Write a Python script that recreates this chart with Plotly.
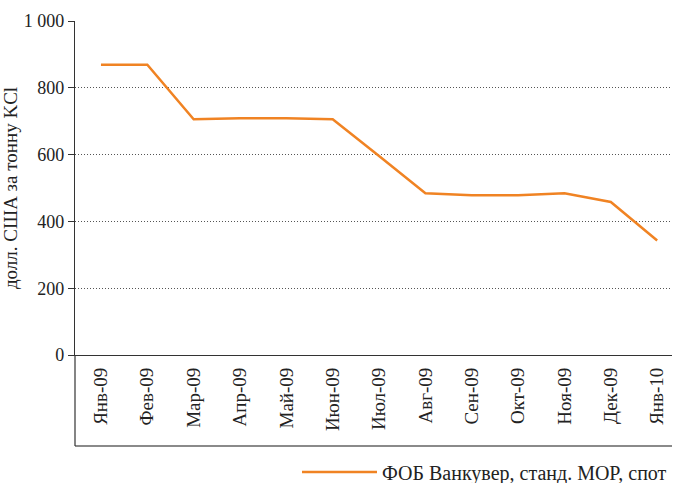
import plotly.graph_objects as go

months = ["Янв-09", "Фев-09", "Мар-09", "Апр-09", "Май-09", "Июн-09", "Июл-09",
          "Авг-09", "Сен-09", "Окт-09", "Ноя-09", "Дек-09", "Янв-10"]
prices = [869, 869, 706, 709, 709, 706, 596, 484, 478, 478, 484, 458, 343]
ytick_vals = [0, 200, 400, 600, 800, 1000]
ytick_text = ["0", "200", "400", "600", "800", "1 000"]
series_name = "ФОБ Ванкувер, станд. MOP, спот"
ytitle = "долл. США за тонну KCl"

FONT = "Liberation Serif"
ORANGE = "#F08323"
DARK = "#333333"
TXT = "#222222"

fig = go.Figure()
fig.add_trace(go.Scatter(
    x=months, y=prices, mode="lines", name=series_name,
    line=dict(color=ORANGE, width=2.5),
))

bottom_y = -0.2725
fig.add_shape(type="line", xref="paper", yref="paper", x0=0, x1=1, y0=bottom_y, y1=bottom_y,
              line=dict(color="#8a8a8a", width=2))
fig.add_shape(type="line", xref="paper", yref="paper", x0=0, x1=0, y0=bottom_y, y1=0,
              line=dict(color=DARK, width=1.2))

fig.update_layout(
    width=673, height=483,
    margin=dict(l=75, r=1, t=21, b=128, autoexpand=False),
    paper_bgcolor="white", plot_bgcolor="white",
    font=dict(family=FONT, size=14, color=TXT),
    showlegend=True,
    legend=dict(x=1, xanchor="right", y=-0.35, yanchor="middle",
                font=dict(family=FONT, size=20, color=TXT),
                itemwidth=75,
                bgcolor="rgba(0,0,0,0)"),
    xaxis=dict(
        type="category", range=[-0.56, 12.32],
        tickangle=-90, showgrid=False, zeroline=False,
        showline=True, linecolor=DARK, linewidth=1.2,
        ticks="outside", ticklen=4, tickcolor="rgba(0,0,0,0)",
        tickfont=dict(family=FONT, size=19, color=TXT),
    ),
    yaxis=dict(
        range=[0, 1000], tickvals=ytick_vals, ticktext=ytick_text,
        showgrid=True, gridcolor="#555555", griddash="1px,2px", gridwidth=1,
        zeroline=False, showline=True, linecolor=DARK, linewidth=1.2,
        ticks="outside", ticklen=6, tickcolor=DARK,
        tickfont=dict(family=FONT, size=18, color=TXT),
        title=dict(text=ytitle, font=dict(family=FONT, size=19, color=TXT), standoff=12),
    ),
)

fig.write_html("out.html", config={"displayModeBar": False},
               post_script="document.body.style.margin='0';")
